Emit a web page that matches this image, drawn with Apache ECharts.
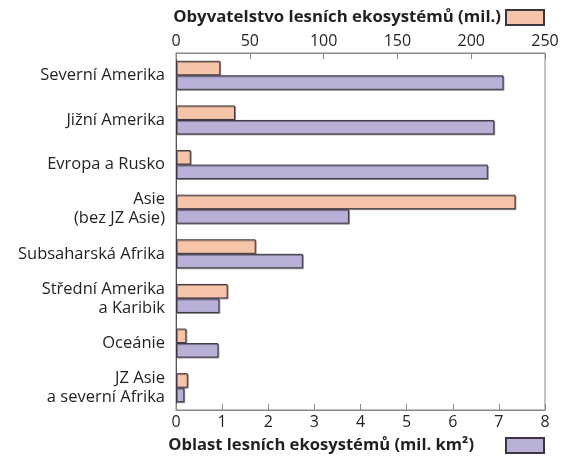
<!DOCTYPE html>
<html>
<head>
<meta charset="utf-8">
<script src="https://cdn.jsdelivr.net/npm/echarts@6/dist/echarts.min.js"></script>
<style>
  html, body { margin: 0; padding: 0; background: #fff; }
  #chart { width: 568px; height: 460px; }
</style>
</head>
<body>
<div id="chart"></div>
<script>
const regions = [
  'Severní Amerika',
  'Jižní Amerika',
  'Evropa a Rusko',
  'Asie\n(bez JZ Asie)',
  'Subsaharská Afrika',
  'Střední Amerika\na Karibik',
  'Oceánie',
  'JZ Asie\na severní Afrika'
]
// obyvatelstvo (mil.) - horní osa
const population = [30, 40, 10, 230, 54, 35, 7, 8]
// oblast (mil. km2) - spodní osa
const area = [7.1, 6.9, 6.76, 3.75, 2.75, 0.94, 0.92, 0.18]

const popName = 'Obyvatelstvo lesních ekosystémů (mil.)'
const areaName = 'Oblast lesních ekosystémů (mil. km²)'

const font = 'Open Sans'
const textColor = '#231f20'

const chart = echarts.init(document.getElementById('chart'))

const legendText = (size, padRight) => ({
  fontSize: size, fontWeight: 'bold', color: textColor, fontFamily: font,
  padding: [0, padRight, 0, 0]
})

const option = {
  animation: false,
  textStyle: { fontFamily: font },
  legend: [
    {
      data: [popName],
      icon: 'rect',
      right: 23, top: 9,
      padding: 0,
      align: 'right',
      itemWidth: 38, itemHeight: 15,
      textStyle: legendText(16.8, 0)
    },
    {
      data: [areaName],
      icon: 'rect',
      right: 23, top: 437,
      padding: 0,
      align: 'right',
      itemWidth: 38, itemHeight: 15,
      textStyle: legendText(16.6, 27)
    }
  ],
  grid: {
    left: 176, right: 23, top: 53, bottom: 50,
    show: true, borderColor: '#888', borderWidth: 1
  },
  xAxis: [
    {
      type: 'value', position: 'top',
      min: 0, max: 250, interval: 50,
      axisLine: { show: true, lineStyle: { color: '#888' } },
      axisTick: { show: true, inside: true, length: 6, lineStyle: { color: '#888' } },
      axisLabel: { fontSize: 16, color: textColor, margin: 4 },
      splitLine: { show: false }
    },
    {
      type: 'value', position: 'bottom',
      min: 0, max: 8, interval: 1,
      axisLine: { show: true, lineStyle: { color: '#888' } },
      axisTick: { show: true, inside: true, length: 6, lineStyle: { color: '#888' } },
      axisLabel: { fontSize: 16, color: textColor, margin: 4 },
      splitLine: { show: false }
    }
  ],
  yAxis: {
    type: 'category',
    data: regions,
    inverse: true,
    axisLine: { lineStyle: { color: '#555' } },
    axisTick: { show: false },
    axisLabel: { fontSize: 16.5, color: textColor, margin: 11, lineHeight: 19, align: 'right' }
  },
  series: [
    {
      name: popName,
      type: 'bar',
      xAxisIndex: 0,
      data: population,
      barGap: '0%',
      barCategoryGap: '35%',
      itemStyle: {
        color: '#f5c4a9', borderColor: '#3e3440', borderWidth: 1,
        shadowColor: 'rgba(0,0,0,0.35)', shadowOffsetX: 1, shadowOffsetY: 1
      }
    },
    {
      name: areaName,
      type: 'bar',
      xAxisIndex: 1,
      data: area,
      barGap: '0%',
      barCategoryGap: '35%',
      itemStyle: {
        color: '#b8b0d6', borderColor: '#3e3440', borderWidth: 1,
        shadowColor: 'rgba(0,0,0,0.35)', shadowOffsetX: 1, shadowOffsetY: 1
      }
    }
  ]
}

chart.setOption(option)
window.addEventListener('resize', () => chart.resize())
</script>
</body>
</html>
